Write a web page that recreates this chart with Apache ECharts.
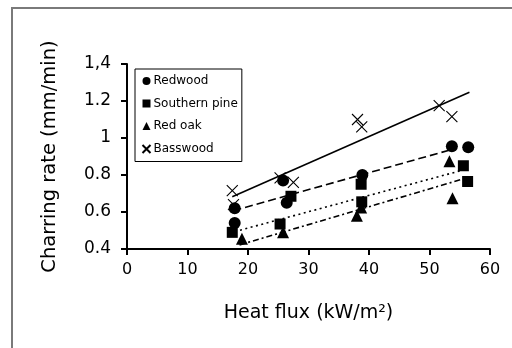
<!DOCTYPE html>
<html>
<head>
<meta charset="utf-8">
<script src="https://cdn.jsdelivr.net/npm/echarts@6/dist/echarts.min.js"></script>
<style>
  html, body { margin: 0; padding: 0; background: #fff; overflow: hidden; }
  #chart { width: 512px; height: 348px; }
</style>
</head>
<body>
<div id="chart"></div>
<script>
// Charring rate vs. heat flux for four wood species, with linear trend lines.
const species = ['Redwood', 'Southern pine', 'Red oak', 'Basswood'];

// measured points [heat flux kW/m2, charring rate mm/min]
const redwood = [[17.8, 0.62], [17.8, 0.54], [25.8, 0.77], [26.4, 0.65], [38.9, 0.80], [53.7, 0.955], [56.4, 0.95]];
const southernPine = [[17.4, 0.49], [25.3, 0.535], [27.1, 0.685], [38.7, 0.75], [38.8, 0.655], [55.6, 0.85], [56.3, 0.765]];
const redOak = [[19.0, 0.455], [25.8, 0.49], [38.0, 0.58], [38.7, 0.625], [53.3, 0.875], [53.8, 0.675]];
const basswood = [[17.4, 0.715], [17.6, 0.64], [25.3, 0.785], [27.5, 0.76], [38.1, 1.10], [38.8, 1.06], [51.6, 1.175], [53.7, 1.115]];

// trend line end points
const redwoodFit = [[17.6, 0.607], [53.9, 0.94]];
const southernPineFit = [[17.8, 0.494], [55.6, 0.827]];
const redOakFit = [[18.6, 0.422], [55.9, 0.782]];
const basswoodFit = [[17.4, 0.683], [56.6, 1.247]];

// axis ticks
const xTicks = { min: 0, max: 60, step: 10 };
const yTicks = { min: 0.4, max: 1.4, step: 0.2 };
const yTickText = { '0.4': '0.4', '0.6': '0.6', '0.8': '0.8', '1.0': '1', '1.2': '1.2', '1.4': '1,4' };

const FONT = 'DejaVu Sans';
const crossPath = 'path://M0,0L10,10M10,0L0,10';

const chart = echarts.init(document.getElementById('chart'), null, { renderer: 'canvas' });

function fitLine(data, dash) {
  return {
    type: 'line',
    data: data,
    symbol: 'none',
    silent: true,
    z: 1,
    lineStyle: { color: '#000', width: 1.6, type: dash }
  };
}

chart.setOption({
  animation: false,
  backgroundColor: '#fff',
  // frame around the figure: only its left and top edges fall inside the canvas
  graphic: [
    {
      type: 'polyline',
      shape: { points: [[12, 360], [12, 8], [520, 8]] },
      style: { stroke: '#7a7a7a', lineWidth: 2, fill: 'none' },
      silent: true
    }
  ],
  grid: { left: 127, right: 22, top: 64, bottom: 99 },
  legend: {
    orient: 'vertical',
    left: 135,
    top: 69,
    data: species,
    itemWidth: 8,
    itemHeight: 8,
    itemGap: 10.5,
    padding: [6, 4, 6, 5],
    borderColor: '#000',
    borderWidth: 1,
    textStyle: { fontFamily: FONT, fontSize: 12, color: '#000', padding: [0, 0, 0, -2] }
  },
  xAxis: {
    type: 'value',
    min: xTicks.min, max: xTicks.max, interval: xTicks.step,
    name: 'Heat flux (kW/m²)',
    nameLocation: 'middle',
    nameGap: 55,
    nameTextStyle: { fontFamily: FONT, fontSize: 19, color: '#000' },
    axisLine: { lineStyle: { color: '#000', width: 2 } },
    axisTick: { inside: false, length: 6, lineStyle: { color: '#000', width: 2 } },
    axisLabel: { fontFamily: FONT, fontSize: 16, color: '#000', margin: 13 },
    splitLine: { show: false }
  },
  yAxis: {
    type: 'value',
    min: yTicks.min, max: yTicks.max, interval: yTicks.step,
    name: 'Charring rate (mm/min)',
    nameLocation: 'middle',
    nameGap: 67,
    nameTextStyle: { fontFamily: FONT, fontSize: 19.5, color: '#000' },
    axisLine: { show: true, lineStyle: { color: '#000', width: 2 } },
    axisTick: { show: true, inside: false, length: 6, lineStyle: { color: '#000', width: 2 } },
    axisLabel: {
      fontFamily: FONT, fontSize: 17, color: '#000', margin: 16,
      formatter: v => yTickText[v.toFixed(1)] || v.toFixed(1)
    },
    splitLine: { show: false }
  },
  series: [
    fitLine(redwoodFit, [8, 4]),
    fitLine(southernPineFit, [2, 3.5]),
    fitLine(redOakFit, [6, 3, 2, 3]),
    fitLine(basswoodFit, 'solid'),
    {
      name: 'Redwood', type: 'scatter', data: redwood, z: 3,
      symbol: 'circle', symbolSize: 12, itemStyle: { color: '#000', opacity: 1 }
    },
    {
      name: 'Southern pine', type: 'scatter', data: southernPine, z: 3,
      symbol: 'rect', symbolSize: 11, itemStyle: { color: '#000', opacity: 1 }
    },
    {
      name: 'Red oak', type: 'scatter', data: redOak, z: 3,
      symbol: 'triangle', symbolSize: 12, itemStyle: { color: '#000', opacity: 1 }
    },
    {
      name: 'Basswood', type: 'scatter', data: basswood, z: 2,
      symbol: crossPath, symbolSize: 11,
      itemStyle: { color: 'none', borderColor: '#000', borderWidth: 1.1, opacity: 1 }
    }
  ]
});
</script>
</body>
</html>
